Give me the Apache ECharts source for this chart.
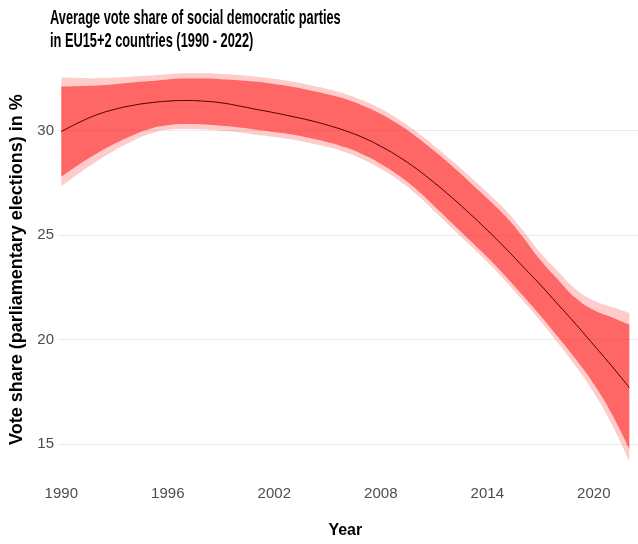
<!DOCTYPE html>
<html>
<head>
<meta charset="utf-8">
<script src="https://cdn.jsdelivr.net/npm/echarts@6/dist/echarts.min.js"></script>
<style>
  html, body { margin: 0; padding: 0; background: #ffffff; }
  #chart { width: 638px; height: 544px; }
</style>
</head>
<body>
<div id="chart"></div>
<script>
// Election years covered by the smoothed trend
const years = [1990, 1991, 1992, 1993, 1994, 1995, 1996, 1997, 1998, 1999,
               2000, 2001, 2002, 2003, 2004, 2005, 2006, 2007, 2008, 2009,
               2010, 2011, 2012, 2013, 2014, 2015, 2016, 2017, 2018, 2019,
               2020, 2021, 2022];

// Fitted average vote share (%)
const fit = [29.91, 30.35, 30.72, 30.98, 31.17, 31.30, 31.38, 31.41, 31.38, 31.30,
             31.15, 30.98, 30.82, 30.64, 30.45, 30.22, 29.95, 29.62, 29.20, 28.70,
             28.12, 27.45, 26.73, 25.96, 25.15, 24.30, 23.40, 22.50, 21.55, 20.60,
             19.60, 18.60, 17.55];

// Narrow interval around the fit
const innerLower = [27.73, 28.32, 28.85, 29.32, 29.72, 30.05, 30.22, 30.27, 30.25, 30.19,
                    30.11, 30.00, 29.89, 29.77, 29.60, 29.40, 29.15, 28.80, 28.35, 27.80,
                    27.12, 26.32, 25.50, 24.68, 23.85, 22.95, 22.00, 21.02, 19.98, 18.90,
                    17.72, 16.30, 14.58];
const innerUpper = [32.09, 32.10, 32.13, 32.20, 32.28, 32.35, 32.43, 32.47, 32.47, 32.44,
                    32.39, 32.31, 32.21, 32.08, 31.91, 31.71, 31.48, 31.16, 30.76, 30.26,
                    29.66, 28.98, 28.26, 27.48, 26.68, 25.84, 24.82, 23.70, 22.75, 21.86,
                    21.29, 20.94, 20.59];

// Wide interval around the fit
const outerLower = [27.27, 27.90, 28.48, 29.00, 29.44, 29.80, 30.00, 30.03, 30.01, 29.95,
                    29.87, 29.76, 29.65, 29.53, 29.36, 29.16, 28.91, 28.56, 28.11, 27.56,
                    26.88, 26.08, 25.26, 24.44, 23.61, 22.71, 21.75, 20.75, 19.68, 18.55,
                    17.30, 15.80, 13.98];
const outerUpper = [32.52, 32.50, 32.49, 32.52, 32.57, 32.62, 32.68, 32.72, 32.72, 32.69,
                    32.64, 32.56, 32.46, 32.33, 32.16, 31.96, 31.73, 31.41, 31.01, 30.51,
                    29.91, 29.23, 28.51, 27.75, 26.97, 26.15, 25.15, 24.06, 23.14, 22.29,
                    21.76, 21.45, 21.15];

// Tick labels
const yTicks = [15, 20, 25, 30];
const xTickEvery = 6;

// Shared vertical range of the panel
const yMin = 13.04, yMax = 33.66;

const chart = echarts.init(document.getElementById('chart'), null, { renderer: 'canvas' });

const diff = (hi, lo) => hi.map((v, i) => +(v - lo[i]).toFixed(3));
const narrowFont = '"Liberation Sans Narrow", "Arial Narrow", "Liberation Sans", Arial, sans-serif';
const regularFont = '"Liberation Sans", Arial, sans-serif';

function bandBase(name, stack, data) {
  return {
    name: name, type: 'line', stack: stack, data: data,
    smooth: true, symbol: 'none', silent: true,
    lineStyle: { opacity: 0 }
  };
}
function bandFill(name, stack, data, color) {
  return {
    name: name, type: 'line', stack: stack, data: data,
    smooth: true, symbol: 'none', silent: true,
    lineStyle: { opacity: 0 },
    areaStyle: { color: color, opacity: 1 }
  };
}

chart.setOption({
  animation: false,
  backgroundColor: '#ffffff',
  graphic: [{
    type: 'text',
    x: 50, y: 7,
    scaleX: 0.61,
    style: {
      text: 'Average vote share of social democratic parties\nin EU15+2 countries (1990 - 2022)',
      font: 'bold 21px ' + regularFont,
      fill: '#000000',
      lineHeight: 23,
      verticalAlign: 'top',
      align: 'left'
    }
  }],
  grid: [
    // data area: 1990 sits on the left edge, 2022 on the right edge
    { left: 61.3, right: 8.7, top: 53.9, bottom: 58.7, containLabel: false },
    // full panel, carrying the horizontal grid lines and the value labels
    { left: 50, right: 0, top: 53.9, bottom: 58.7, containLabel: false }
  ],
  xAxis: [{
    type: 'category',
    gridIndex: 0,
    data: years.map(String),
    boundaryGap: false,
    name: 'Year',
    nameLocation: 'middle',
    nameGap: 42,
    nameTextStyle: { fontFamily: narrowFont, fontWeight: 'bold', fontSize: 16, color: '#000000' },
    axisLine: { show: false },
    axisTick: { show: false },
    splitLine: { show: false },
    axisLabel: {
      interval: xTickEvery - 1,
      margin: 5,
      fontFamily: narrowFont, fontSize: 15, color: '#4d4d4d'
    }
  }, {
    type: 'value',
    gridIndex: 1,
    min: 0, max: 1,
    show: false
  }],
  yAxis: [{
    type: 'value',
    gridIndex: 0,
    min: yMin, max: yMax,
    axisLine: { show: false },
    axisTick: { show: false },
    axisLabel: { show: false },
    splitLine: { show: false }
  }, {
    type: 'value',
    gridIndex: 1,
    min: yMin, max: yMax,
    name: 'Vote share (parliamentary elections) in %',
    nameLocation: 'middle',
    nameRotate: 90,
    nameGap: 32,
    nameTextStyle: { fontFamily: regularFont, fontWeight: 'bold', fontSize: 18, color: '#000000' },
    axisLine: { show: false },
    axisTick: { show: false, customValues: yTicks },
    axisLabel: {
      customValues: yTicks,
      margin: 4,
      fontFamily: narrowFont, fontSize: 15, color: '#4d4d4d'
    },
    splitLine: { show: true, lineStyle: { color: '#ebebeb', width: 1 } }
  }],
  series: [
    bandBase('outer-base', 'outer', outerLower),
    bandFill('outer-band', 'outer', diff(outerUpper, outerLower), 'rgba(255,0,0,0.2)'),
    bandBase('inner-base', 'inner', innerLower),
    bandFill('inner-band', 'inner', diff(innerUpper, innerLower), 'rgba(255,0,0,0.5)'),
    {
      name: 'fit', type: 'line', data: fit,
      smooth: true, symbol: 'none', silent: true,
      lineStyle: { color: '#4a0000', width: 1 }
    }
  ]
});
</script>
</body>
</html>
